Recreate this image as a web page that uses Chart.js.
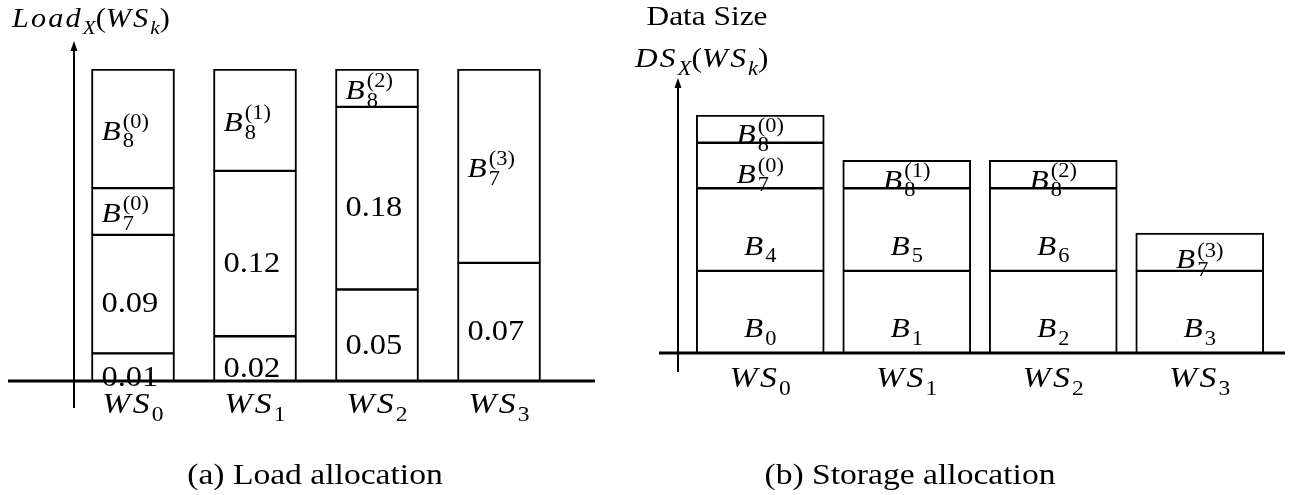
<!DOCTYPE html>
<html>
<head>
<meta charset="utf-8">
<script src="https://cdn.jsdelivr.net/npm/chart.js@4.4.0/dist/chart.umd.min.js"></script>
<style>
  html, body { margin: 0; padding: 0; background: #fff; }
  #wrap { position: relative; width: 1301px; height: 495px; overflow: hidden; }
  canvas { position: absolute; top: 0; }
  #loadChart { left: 0; }
  #sizeChart { left: 620px; }
</style>
</head>
<body>
<div id="wrap">
  <canvas id="loadChart" width="620" height="495"></canvas>
  <canvas id="sizeChart" width="681" height="495"></canvas>
</div>
<script>
// workers on the x axis
const workers = ["WS_0", "WS_1", "WS_2", "WS_3"];

// (a) load allocation: drawn height of each stacked piece, bottom to top,
// as a share of the full column (the sketch is not drawn to scale)
const loadLevel1 = [0.09, 0.145, 0.295, 0.38];
const loadLevel2 = [0.38, 0.53, 0.585, 0.62];
const loadLevel3 = [0.15, 0.325, 0.12, null];
const loadLevel4 = [0.38, null, null, null];
const loadText1 = ["0.01", "0.02", "0.05", "0.07"];
const loadText2 = ["0.09", "0.12", "0.18", "B_7^{(3)}"];
const loadText3 = ["B_7^{(0)}", "B_8^{(1)}", "B_8^{(2)}", ""];
const loadText4 = ["B_8^{(0)}", "", "", ""];

// (b) storage allocation, in blocks (a whole block B_i = 1)
const sizeLevel1 = [1, 1, 1, 1];
const sizeLevel2 = [1, 1, 1, 0.45];
const sizeLevel3 = [0.55, 0.33, 0.33, null];
const sizeLevel4 = [0.33, null, null, null];
const sizeText1 = ["B_0", "B_1", "B_2", "B_3"];
const sizeText2 = ["B_4", "B_5", "B_6", "B_7^{(3)}"];
const sizeText3 = ["B_7^{(0)}", "B_8^{(1)}", "B_8^{(2)}", ""];
const sizeText4 = ["B_8^{(0)}", "", "", ""];

const SERIF = '"Liberation Serif", "Times New Roman", serif';
const STRETCH = 1.12; // the original face is wider than Times
const ITALIC_GAP = 0.07; // math italic letters sit further apart

function fontOf(size, italic) {
  return (italic ? "italic " : "") + size + "px " + SERIF;
}

// tiny tex-ish parser: B_8^{(0)} -> base / sub / sup tokens
function tokens(src) {
  const out = [];
  let i = 0;
  while (i < src.length) {
    const c = src[i];
    if (c === "_" || c === "^") {
      let g;
      if (src[i + 1] === "{") {
        const j = src.indexOf("}", i);
        g = src.slice(i + 2, j);
        i = j + 1;
      } else {
        g = src[i + 1];
        i += 2;
      }
      out.push({ t: g, kind: c === "_" ? "sub" : "sup" });
    } else {
      out.push({ t: c, kind: "base" });
      i++;
    }
  }
  return out;
}

function layoutMath(ctx, src, size, upright) {
  const parts = [];
  let x = 0;
  let scriptStart = null;
  let scriptW = 0;
  tokens(src).forEach((tk) => {
    if (tk.kind === "base") {
      if (scriptStart !== null) {
        x = scriptStart + scriptW;
        scriptStart = null;
        scriptW = 0;
      }
      const it = !upright && /[A-Za-z]/.test(tk.t);
      const font = fontOf(size, it);
      ctx.font = font;
      parts.push({ t: tk.t, font: font, x: x, dy: 0 });
      x += ctx.measureText(tk.t).width + (it ? size * ITALIC_GAP : 0);
    } else {
      if (scriptStart === null) {
        scriptStart = x;
        scriptW = 0;
      }
      const s = Math.round(size * 0.7);
      let sx = scriptStart;
      for (const ch of tk.t) {
        const font = fontOf(s, /[A-Za-z]/.test(ch));
        ctx.font = font;
        parts.push({ t: ch, font: font, x: sx, dy: tk.kind === "sub" ? size * 0.27 : -size * 0.42 });
        sx += ctx.measureText(ch).width;
      }
      scriptW = Math.max(scriptW, sx - scriptStart);
    }
  });
  if (scriptStart !== null) x = scriptStart + scriptW;
  return { parts: parts, width: x };
}

function drawMath(ctx, src, x, y, size, align, upright) {
  const m = layoutMath(ctx, src, size, upright);
  const x0 = align === "center" ? x - (m.width * STRETCH) / 2 : x;
  ctx.save();
  ctx.translate(x0, y);
  ctx.scale(STRETCH, 1);
  ctx.fillStyle = "#000";
  ctx.textBaseline = "alphabetic";
  ctx.textAlign = "left";
  m.parts.forEach((p) => {
    ctx.font = p.font;
    ctx.fillText(p.t, p.x, p.dy);
  });
  ctx.restore();
}

// axes, piece labels, worker labels, titles and caption
function decor(cfg) {
  return {
    id: "decor",
    afterDatasetsDraw(chart) {
      const ctx = chart.ctx;
      const area = chart.chartArea;
      const xs = chart.scales.x;
      const y0 = chart.scales.y.getPixelForValue(0);
      ctx.save();
      ctx.fillStyle = "#000";
      ctx.fillRect(area.left - cfg.axisLeft, y0 - 1.5,
        area.right - area.left + cfg.axisLeft + cfg.axisRight, 3);
      const ax = area.left + cfg.yAxisAt;
      const tip = area.top - cfg.yAxisAbove;
      ctx.fillRect(ax - 1, tip + 8, 2, y0 + cfg.yAxisBelow - tip - 8);
      ctx.beginPath();
      ctx.moveTo(ax, tip);
      ctx.lineTo(ax - 3.5, tip + 10);
      ctx.lineTo(ax + 3.5, tip + 10);
      ctx.closePath();
      ctx.fill();

      cfg.texts.forEach((row, d) => {
        const meta = chart.getDatasetMeta(d);
        meta.data.forEach((bar, j) => {
          const txt = row[j];
          if (!txt) return;
          const h = bar.base - bar.y;
          const isNum = /^[0-9.]+$/.test(txt);
          const size = isNum ? cfg.numSize : cfg.labelSize;
          const drop = isNum ? cfg.numDrop : cfg.labelDrop;
          const cy = (bar.y + bar.base) / 2 + drop + cfg.dropShare * h;
          const base = cy + 0.33 * size;
          if (cfg.align === "left") {
            drawMath(ctx, txt, bar.x - bar.width / 2 + cfg.inset, base, size, "left");
          } else {
            drawMath(ctx, txt, bar.x, base, size, "center");
          }
        });
      });

      workers.forEach((w, i) => {
        drawMath(ctx, w, xs.getPixelForValue(i), y0 + cfg.tickBase, cfg.tickSize, "center");
      });
      cfg.notes.forEach((n) => {
        drawMath(ctx, n.text, n.x, n.y, n.size, n.align, n.upright);
      });
      ctx.restore();
    }
  };
}

function barSet(data) {
  return {
    data: data,
    backgroundColor: "#fff",
    borderColor: "#000",
    borderWidth: { top: 2, right: 2, bottom: 1, left: 2 },
    borderSkipped: false
  };
}

function makeChart(id, levels, yMax, thickness, padding, cfg) {
  return new Chart(document.getElementById(id), {
    type: "bar",
    data: {
      labels: workers,
      datasets: levels.map(barSet)
    },
    options: {
      responsive: false,
      animation: false,
      devicePixelRatio: 1,
      layout: { padding: padding },
      datasets: { bar: { barThickness: thickness } },
      scales: {
        x: { display: false, stacked: true },
        y: { display: false, stacked: true, min: 0, max: yMax }
      },
      plugins: { legend: { display: false }, tooltip: { enabled: false } }
    },
    plugins: [decor(cfg)]
  });
}

makeChart("loadChart",
  [loadLevel1, loadLevel2, loadLevel3, loadLevel4],
  1, 83,
  { left: 72, right: 60, top: 69, bottom: 114 },
  {
    axisLeft: 64, axisRight: 35, yAxisAt: 2, yAxisAbove: 28, yAxisBelow: 27,
    texts: [loadText1, loadText2, loadText3, loadText4],
    align: "left", inset: 10, numDrop: 9, labelDrop: 2, dropShare: 0,
    numSize: 29, labelSize: 28, tickSize: 30, tickBase: 32,
    notes: [
      { text: "Load_X(WS_k)", x: 12, y: 27, size: 27, align: "left" },
      { text: "(a) Load allocation", x: 315, y: 484, size: 30, align: "center", upright: true }
    ]
  });

makeChart("sizeChart",
  [sizeLevel1, sizeLevel2, sizeLevel3, sizeLevel4],
  2.88, 128,
  { left: 67, right: 28, top: 115, bottom: 142 },
  {
    axisLeft: 28, axisRight: 12, yAxisAt: -9, yAxisAbove: 37, yAxisBelow: 19,
    texts: [sizeText1, sizeText2, sizeText3, sizeText4],
    align: "center", inset: 0, numDrop: 0, labelDrop: 0, dropShare: 0.2,
    numSize: 28, labelSize: 28, tickSize: 30, tickBase: 34,
    notes: [
      { text: "Data Size", x: 87, y: 25, size: 28, align: "center", upright: true },
      { text: "DS_X(WS_k)", x: 15, y: 67, size: 28, align: "left" },
      { text: "(b) Storage allocation", x: 290, y: 484, size: 30, align: "center", upright: true }
    ]
  });
</script>
</body>
</html>
